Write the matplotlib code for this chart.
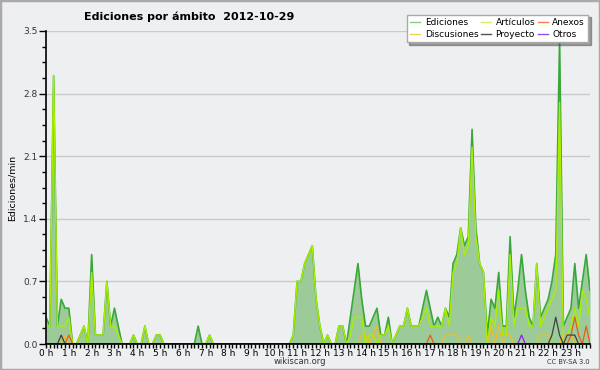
import numpy as np
import matplotlib
matplotlib.use('Agg')
import matplotlib.pyplot as plt
from matplotlib.lines import Line2D
from matplotlib.patches import Rectangle

# values are edits per minute, one point every 10 minutes (00:00 .. 23:50)
ediciones = [
    0.3, 0.2, 3.0, 0.2, 0.5, 0.4, 0.4, 0.0, 0.0, 0.1, 0.2, 0.0,
    1.0, 0.1, 0.1, 0.1, 0.7, 0.2, 0.4, 0.2, 0.0, 0.0, 0.0, 0.1,
    0.0, 0.0, 0.2, 0.0, 0.0, 0.1, 0.1, 0.0, 0.0, 0.0, 0.0, 0.0,
    0.0, 0.0, 0.0, 0.0, 0.2, 0.0, 0.0, 0.1, 0.0, 0.0, 0.0, 0.0,
    0.0, 0.0, 0.0, 0.0, 0.0, 0.0, 0.0, 0.0, 0.0, 0.0, 0.0, 0.0,
    0.0, 0.0, 0.0, 0.0, 0.0, 0.1, 0.7, 0.7, 0.9, 1.0, 1.1, 0.5,
    0.2, 0.0, 0.1, 0.0, 0.0, 0.2, 0.2, 0.0, 0.3, 0.6, 0.9, 0.5,
    0.2, 0.2, 0.3, 0.4, 0.1, 0.1, 0.3, 0.0, 0.1, 0.2, 0.2, 0.4,
    0.2, 0.2, 0.2, 0.4, 0.6, 0.4, 0.2, 0.3, 0.2, 0.4, 0.3, 0.9,
    1.0, 1.3, 1.1, 1.2, 2.4, 1.3, 0.9, 0.8, 0.1, 0.5, 0.4, 0.8,
    0.2, 0.2, 1.2, 0.3, 0.6, 1.0, 0.6, 0.3, 0.2, 0.9, 0.3, 0.4,
    0.5, 0.7, 1.0, 3.4, 0.2, 0.3, 0.4, 0.9, 0.4, 0.7, 1.0, 0.6,
]
articulos = [
    0.2, 0.2, 3.0, 0.2, 0.2, 0.2, 0.3, 0.0, 0.0, 0.1, 0.2, 0.0,
    0.8, 0.1, 0.1, 0.1, 0.7, 0.2, 0.2, 0.1, 0.0, 0.0, 0.0, 0.1,
    0.0, 0.0, 0.2, 0.0, 0.0, 0.1, 0.1, 0.0, 0.0, 0.0, 0.0, 0.0,
    0.0, 0.0, 0.0, 0.0, 0.0, 0.0, 0.0, 0.1, 0.0, 0.0, 0.0, 0.0,
    0.0, 0.0, 0.0, 0.0, 0.0, 0.0, 0.0, 0.0, 0.0, 0.0, 0.0, 0.0,
    0.0, 0.0, 0.0, 0.0, 0.0, 0.1, 0.7, 0.7, 0.9, 1.0, 1.1, 0.5,
    0.2, 0.0, 0.1, 0.0, 0.0, 0.2, 0.2, 0.0, 0.1, 0.3, 0.3, 0.3,
    0.0, 0.1, 0.1, 0.0, 0.1, 0.1, 0.2, 0.0, 0.1, 0.2, 0.2, 0.4,
    0.2, 0.2, 0.2, 0.3, 0.4, 0.2, 0.2, 0.2, 0.2, 0.4, 0.2, 0.8,
    0.9, 1.3, 1.0, 1.1, 2.2, 1.2, 0.9, 0.8, 0.0, 0.3, 0.2, 0.6,
    0.1, 0.1, 1.0, 0.2, 0.4, 0.4, 0.4, 0.2, 0.2, 0.9, 0.2, 0.3,
    0.4, 0.5, 0.6, 2.7, 0.0, 0.1, 0.2, 0.4, 0.2, 0.6, 0.5, 0.3,
]
discusiones = [
    0, 0, 0, 0, 0, 0.1, 0, 0, 0, 0, 0, 0,
    0, 0, 0, 0, 0, 0, 0, 0, 0, 0, 0, 0,
    0, 0, 0, 0, 0, 0, 0, 0, 0, 0, 0, 0,
    0, 0, 0, 0, 0, 0, 0, 0, 0, 0, 0, 0,
    0, 0, 0, 0, 0, 0, 0, 0, 0, 0, 0, 0,
    0, 0, 0, 0, 0, 0, 0, 0, 0, 0, 0, 0,
    0, 0, 0, 0, 0, 0, 0, 0, 0, 0, 0, 0.1,
    0.1, 0, 0.1, 0.2, 0, 0, 0, 0, 0, 0, 0, 0,
    0, 0, 0, 0, 0, 0, 0, 0, 0, 0.1, 0.1, 0.1,
    0.1, 0, 0, 0.1, 0, 0, 0, 0, 0, 0.2, 0, 0.2,
    0, 0.1, 0.1, 0, 0, 0, 0, 0, 0, 0, 0.1, 0.1,
    0.1, 0, 0, 0, 0.1, 0.1, 0.1, 0, 0, 0, 0, 0,
]
proyecto = [
    0, 0, 0, 0, 0.1, 0, 0, 0, 0, 0, 0, 0,
    0, 0, 0, 0, 0, 0, 0, 0, 0, 0, 0, 0,
    0, 0, 0, 0, 0, 0, 0, 0, 0, 0, 0, 0,
    0, 0, 0, 0, 0, 0, 0, 0, 0, 0, 0, 0,
    0, 0, 0, 0, 0, 0, 0, 0, 0, 0, 0, 0,
    0, 0, 0, 0, 0, 0, 0, 0, 0, 0, 0, 0,
    0, 0, 0, 0, 0, 0, 0, 0, 0, 0, 0, 0,
    0, 0, 0, 0, 0, 0, 0, 0, 0, 0, 0, 0,
    0, 0, 0, 0, 0, 0, 0, 0, 0, 0, 0, 0,
    0, 0, 0, 0, 0, 0, 0, 0, 0, 0, 0, 0,
    0, 0, 0, 0, 0, 0, 0, 0, 0, 0, 0, 0,
    0, 0.1, 0.3, 0.1, 0, 0.1, 0.1, 0.1, 0, 0, 0, 0,
]
anexos = [
    0, 0, 0, 0, 0, 0, 0.1, 0, 0, 0, 0, 0,
    0, 0, 0, 0, 0, 0, 0, 0, 0, 0, 0, 0,
    0, 0, 0, 0, 0, 0, 0, 0, 0, 0, 0, 0,
    0, 0, 0, 0, 0, 0, 0, 0, 0, 0, 0, 0,
    0, 0, 0, 0, 0, 0, 0, 0, 0, 0, 0, 0,
    0, 0, 0, 0, 0, 0, 0, 0, 0, 0, 0, 0,
    0, 0, 0, 0, 0, 0, 0, 0, 0, 0, 0, 0,
    0, 0, 0, 0, 0, 0, 0, 0, 0, 0, 0, 0,
    0, 0, 0, 0, 0, 0.1, 0, 0, 0, 0, 0, 0,
    0, 0, 0, 0, 0, 0, 0, 0, 0, 0, 0, 0,
    0, 0, 0, 0, 0, 0, 0, 0, 0, 0, 0, 0,
    0, 0, 0, 0, 0, 0, 0.1, 0.3, 0.1, 0, 0.2, 0,
]
otros = [
    0, 0, 0, 0, 0, 0, 0, 0, 0, 0, 0, 0,
    0, 0, 0, 0, 0, 0, 0, 0, 0, 0, 0, 0,
    0, 0, 0, 0, 0, 0, 0, 0, 0, 0, 0, 0,
    0, 0, 0, 0, 0, 0, 0, 0, 0, 0, 0, 0,
    0, 0, 0, 0, 0, 0, 0, 0, 0, 0, 0, 0,
    0, 0, 0, 0, 0, 0, 0, 0, 0, 0, 0, 0,
    0, 0, 0, 0, 0, 0, 0, 0, 0, 0, 0, 0,
    0, 0, 0, 0, 0, 0, 0, 0, 0, 0, 0, 0,
    0, 0, 0, 0, 0, 0, 0, 0, 0, 0, 0, 0,
    0, 0, 0, 0, 0, 0, 0, 0, 0, 0, 0, 0,
    0, 0, 0, 0, 0, 0.1, 0, 0, 0, 0, 0, 0,
    0, 0, 0, 0, 0, 0, 0, 0, 0, 0, 0, 0,
]
hour_labels = [f'{h} h' for h in range(24)]
y_ticks = [0.0, 0.7, 1.4, 2.1, 2.8, 3.5]

BG = '#eeeff1'
col_ed = '#38a838'
col_fill = '#9cca99'
col_art = '#aaee00'
col_disc = '#f0c020'
col_proy = '#404040'
col_anex = '#ee5a18'
col_otros = '#9020e0'

t = np.arange(len(ediciones)) / 6.0

fig = plt.figure(figsize=(6, 3.7), dpi=100, facecolor=BG)
ax = fig.add_axes([46/600, 26/370, 544/600, 313/370], facecolor=BG)

ax.fill_between(t, ediciones, color=col_fill, lw=0)
ax.plot(t, ediciones, color=col_ed, lw=1.2)
ax.plot(t, articulos, color=col_art, lw=1.0)
ax.plot(t, discusiones, color=col_disc, lw=0.9)
ax.plot(t, anexos, color=col_anex, lw=0.9)
ax.plot(t, proyecto, color=col_proy, lw=0.9)
ax.plot(t, otros, color=col_otros, lw=0.9)

ax.set_xlim(0, t[-1])
ax.set_ylim(0, 3.5)
ax.set_yticks(y_ticks)
ax.set_yticklabels([f'{v:.1f}' for v in y_ticks])
ax.set_yticks(np.arange(0, 3.5, 0.175), minor=True)
ax.set_xticks(range(24))
ax.set_xticklabels(hour_labels)
ax.set_xticks(t, minor=True)
ax.yaxis.grid(True, color='#cbcbcb', lw=1)
ax.set_axisbelow(True)

for s in ['top', 'right']:
    ax.spines[s].set_visible(False)
for s in ['left', 'bottom']:
    ax.spines[s].set_linewidth(1.2)

ax.tick_params(axis='y', which='major', length=5, width=1, labelsize=6.5,
               labelcolor='#333333', pad=1)
ax.tick_params(axis='y', which='minor', length=3, width=1)
ax.tick_params(axis='x', which='major', length=3, width=1, labelsize=6.5, pad=0.5)
ax.tick_params(axis='x', which='minor', length=3, width=1)

ax.set_ylabel('Ediciones/min', fontsize=6.8, labelpad=5)

fig.text(0.315, 0.955, 'Ediciones por ámbito  2012-10-29', ha='center', va='center',
         fontsize=8, fontweight='bold')
fig.text(0.5, 0.022, 'wikiscan.org', ha='center', va='center', fontsize=6,
         color='#333333')
fig.text(0.983, 0.022, 'CC BY-SA 3.0', ha='right', va='center', fontsize=4.8,
         color='#333333')

handles = [
    Line2D([], [], color='#80d080', lw=1),
    Line2D([], [], color='#f0d050', lw=1),
    Line2D([], [], color='#d0f060', lw=1),
    Line2D([], [], color='#555555', lw=1),
    Line2D([], [], color='#f08050', lw=1),
    Line2D([], [], color='#9050f0', lw=1),
]
names = ['Ediciones', 'Discusiones', 'Artículos', 'Proyecto', 'Anexos', 'Otros']
leg = fig.legend(handles, names, ncol=3, loc='upper right',
                 bbox_to_anchor=(593/600, 1 - 10/370), fontsize=6.5,
                 handlelength=1.1, handletextpad=0.5, columnspacing=0.3,
                 labelspacing=0.3, borderpad=0.4, fancybox=False, shadow=True,
                 framealpha=1, edgecolor='#aaaaaa')
leg.get_frame().set_linewidth(1)

fig.patches.append(Rectangle((0, 0), 1, 1, transform=fig.transFigure, fill=False,
                             edgecolor='#aaaaaa', lw=2.5))

fig.savefig('out.png', dpi=100, facecolor=BG)
